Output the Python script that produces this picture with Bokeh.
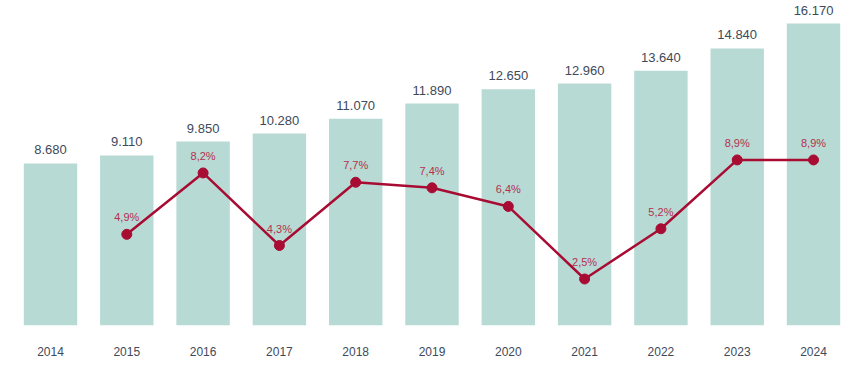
from bokeh.plotting import figure
from bokeh.models import ColumnDataSource, Range1d, FixedTicker, LabelSet
from bokeh.core.properties import value
from bokeh.embed import file_html
from bokeh.resources import INLINE

years = ["2014", "2015", "2016", "2017", "2018", "2019", "2020", "2021", "2022", "2023", "2024"]
values = [8680, 9110, 9850, 10280, 11070, 11890, 12650, 12960, 13640, 14840, 16170]
growth_years = years[1:]
growth = [4.9, 8.2, 4.3, 7.7, 7.4, 6.4, 2.5, 5.2, 8.9, 8.9]

FONT = "Liberation Sans"
BAR = "#B7DAD4"
LINE = "#A80C33"
TXT = "#3D4A5B"
PCT_TXT = "#B5304F"

xs = list(range(len(years)))
gx = [years.index(y) for y in growth_years]

bar_src = ColumnDataSource(dict(
    x=xs, v=values,
    lbl=[f"{v:,}".replace(",", ".") for v in values],
))
line_src = ColumnDataSource(dict(
    x=gx, g=growth,
    lbl=[f"{g:.1f}%".replace(".", ",") for g in growth],
))

p = figure(width=852, height=366, output_backend="svg", toolbar_location=None,
           x_range=Range1d(-0.498, 10.511), y_range=Range1d(0, 17408),
           min_border_top=0, min_border_left=12, min_border_right=0, min_border_bottom=41)
p.extra_y_ranges = {"pct": Range1d(0, 17.47)}
p.outline_line_color = None
p.background_fill_color = "white"
p.border_fill_color = "white"
p.xgrid.visible = False
p.ygrid.visible = False
p.yaxis.visible = False

p.vbar(x="x", top="v", width=0.7, source=bar_src, color=BAR, line_color=None)

p.line(x="x", y="g", source=line_src, y_range_name="pct", line_color=LINE, line_width=2.5)
p.scatter(x="x", y="g", source=line_src, y_range_name="pct", size=10,
          fill_color=LINE, line_color=LINE)

p.add_layout(LabelSet(x="x", y="v", text="lbl", source=bar_src, text_align="center",
                      text_baseline="bottom", y_offset=9, text_font=value(FONT),
                      text_font_size=value("13px"), text_color=value(TXT)))
p.add_layout(LabelSet(x="x", y="g", text="lbl", source=line_src, y_range_name="pct",
                      text_align="center", text_baseline="bottom", y_offset=11,
                      text_font=value(FONT), text_font_size=value("11px"),
                      text_color=value(PCT_TXT)))

xa = p.xaxis[0]
xa.ticker = FixedTicker(ticks=xs)
xa.major_label_overrides = {i: y for i, y in enumerate(years)}
xa.axis_line_color = None
xa.major_tick_line_color = None
xa.minor_tick_line_color = None
xa.major_label_standoff = 15
xa.major_label_text_font = FONT
xa.major_label_text_font_size = "12px"
xa.major_label_text_color = TXT

open("out.html", "w").write(file_html(p, INLINE))
